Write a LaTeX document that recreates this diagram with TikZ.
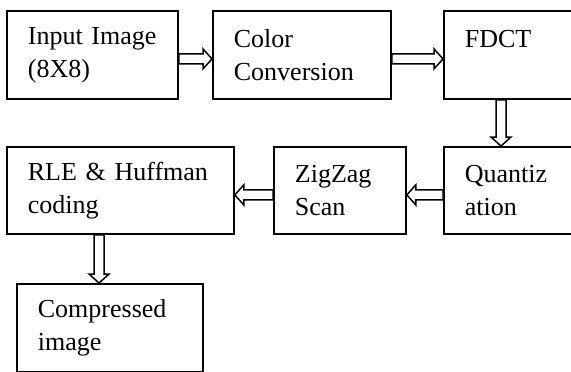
\documentclass[tikz,border=0pt]{standalone}
\usepackage{fontspec}
\setmainfont{Liberation Serif}
\usetikzlibrary{calc}

\begin{document}
\begin{tikzpicture}[
  x=1pt,
  y=-1pt,
  stage/.style={draw, line width=1.8pt, anchor=north west, align=left,
    inner xsep=21pt, inner ysep=0pt, minimum height=88pt,
    font=\fontsize{26}{33}\selectfont},
  flow/.style={draw, line width=1.5pt, fill=white, line join=miter,
    to path={($(\tikztostart)!5pt!90:(\tikztotarget)$)
      -- ($(\tikztotarget)!9pt!(\tikztostart)!5pt!90:(\tikztotarget)$)
      -- ($(\tikztotarget)!9pt!(\tikztostart)!10pt!90:(\tikztotarget)$)
      -- (\tikztotarget)
      -- ($(\tikztotarget)!9pt!(\tikztostart)!10pt!-90:(\tikztotarget)$)
      -- ($(\tikztotarget)!9pt!(\tikztostart)!5pt!-90:(\tikztotarget)$)
      -- ($(\tikztostart)!5pt!-90:(\tikztotarget)$) -- cycle}}
]
  \path[use as bounding box, clip] (0,0) rectangle (571,372);

  % first row
  \node[stage, text width=129pt] (inp) at (6,10) {Input Image\\(8X8)};
  \node[stage, text width=136pt] (conv) at (212,10) {Color\\Conversion};
  \node[stage, text width=200pt] (fdct) at (443,10) {FDCT\\\mbox{}};

  % second row
  \node[stage, text width=200pt, minimum height=87pt] (quant) at (443,146) {Quantiz\\ation};
  \node[stage, text width=90pt, minimum height=87pt] (zigzag) at (273,146) {ZigZag\\Scan};
  \node[stage, text width=185pt, minimum height=87pt] (rle) at (6,146) {RLE \& Huffman\\coding};

  \node[stage, text width=144pt] (comp) at (16,283) {Compressed\\image};

  \draw[flow] ([yshift=-4pt]inp.east) to ([yshift=-4pt]conv.west);
  \draw[flow] ([yshift=-4pt]conv.east) to ([yshift=-4pt]fdct.west);
  \draw[flow] ([xshift=58pt]fdct.south west) to ([xshift=58pt]quant.north west);
  \draw[flow] ([yshift=-4.5pt]quant.west) to ([yshift=-4.5pt]zigzag.east);
  \draw[flow] ([yshift=-4.5pt]zigzag.west) to ([yshift=-4.5pt]rle.east);
  \draw[flow] ([xshift=93pt]rle.south west) to ([xshift=83pt]comp.north west);
\end{tikzpicture}
\end{document}
